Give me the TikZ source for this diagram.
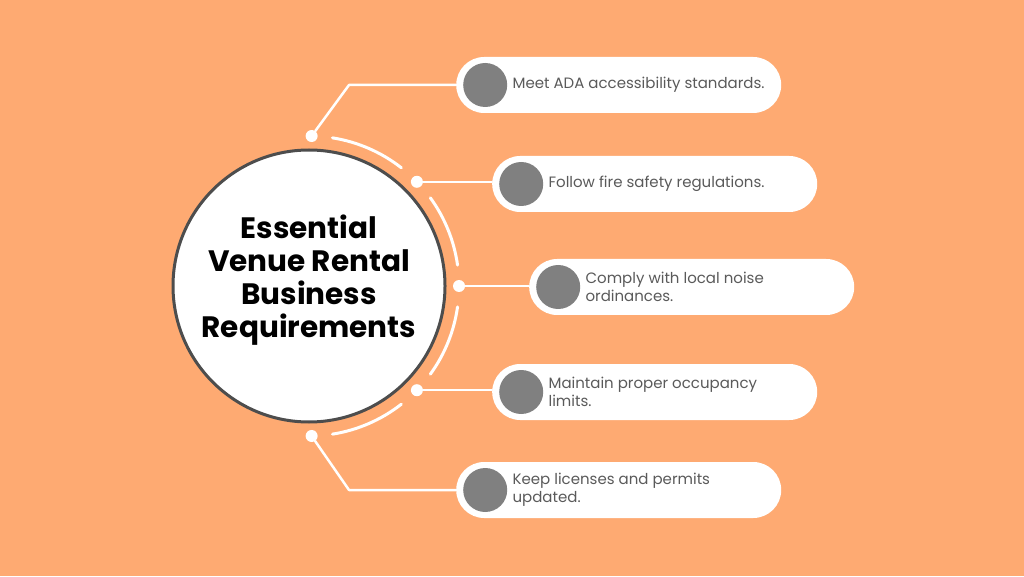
\documentclass[tikz,border=0pt]{standalone}
\usepackage{fontspec}
\setmainfont{Poppins}
\usetikzlibrary{positioning}
\definecolor{VenueOrange}{HTML}{FEAA72}
\definecolor{VenueGray}{HTML}{808080}
\definecolor{VenueInk}{HTML}{5A5A5A}
\definecolor{VenueRim}{HTML}{4D4D4D}

\begin{document}
\begin{tikzpicture}[x=1pt,y=1pt,line cap=round,line join=round,
  pill/.style={fill=white,rounded corners=28pt,minimum width=325pt,minimum height=56pt,inner sep=0pt,anchor=west},
  badge/.style={circle,fill=VenueGray,minimum size=44pt,inner sep=0pt},
  tip/.style={circle,fill=white,minimum size=12pt,inner sep=0pt},
  item/.style={font=\fontsize{15}{18}\selectfont,text=VenueInk,align=left,inner sep=0pt},
  wire/.style={white,line width=2.5pt},
  ring/.style={white,line width=3pt}]
  \fill[VenueOrange] (0,0) rectangle (1024,576);
  \node[circle,fill=white,draw=VenueRim,line width=3pt,minimum size=272pt] (hub) at (309,290) {};
  \node[font=\fontsize{29.5}{33}\selectfont\bfseries,align=center,yshift=6pt] (title) at (hub)
    {Essential\\Venue Rental\\Business\\Requirements};
  \foreach \a/\b in {81/52,36/8,-8/-36,-52/-81}
    \draw[ring] ([shift={(\a:150)}]hub.center) arc[start angle=\a,end angle=\b,radius=150];
  \node[tip] (d1) at ([shift={(89:150)}]hub.center) {};
  \node[tip] (d2) at ([shift={(44:150)}]hub.center) {};
  \node[tip] (d3) at ([shift={(0:150)}]hub.center) {};
  \node[tip] (d4) at ([shift={(-44:150)}]hub.center) {};
  \node[tip] (d5) at ([shift={(-89:150)}]hub.center) {};
  \node[pill] (p1) at (456,491) {};
  \node[pill] (p2) at (492,392) {};
  \node[pill] (p3) at (529,289) {};
  \node[pill] (p4) at (492,184) {};
  \node[pill] (p5) at (456,86) {};
  \coordinate (k1) at (349,491);
  \coordinate (k5) at (349,86);
  \draw[wire] (d1) -- (k1) -- (p1.west);
  \draw[wire] (d2) -- (d2 -| p2.west);
  \draw[wire] (d3) -- (d3 -| p3.west);
  \draw[wire] (d4) -- (d4 -| p4.west);
  \draw[wire] (d5) -- (k5) -- (p5.west);
  \node[badge,right=7pt of p1.west] (b1) {};
  \node[badge,right=7pt of p2.west] (b2) {};
  \node[badge,right=7pt of p3.west] (b3) {};
  \node[badge,right=7pt of p4.west] (b4) {};
  \node[badge,right=7pt of p5.west] (b5) {};
  \node[item,right=5pt of b1] (t1) {Meet ADA accessibility standards.};
  \node[item,right=5pt of b2] (t2) {Follow fire safety regulations.};
  \node[item,right=5pt of b3] (t3) {Comply with local noise\\ordinances.};
  \node[item,right=5pt of b4] (t4) {Maintain proper occupancy\\limits.};
  \node[item,right=5pt of b5] (t5) {Keep licenses and permits\\updated.};
\end{tikzpicture}
\end{document}
